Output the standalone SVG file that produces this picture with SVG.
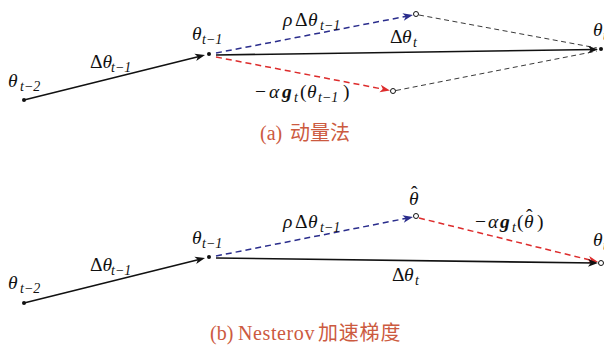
<svg xmlns="http://www.w3.org/2000/svg" width="604" height="347" viewBox="0 0 604 347">
<style>
.m{font-family:"Liberation Serif","DejaVu Serif",serif;font-size:19.5px;fill:#111}
.i{font-style:italic}
.s{font-size:14px}
.b{font-weight:bold;font-style:italic}
.cap{font-family:"Liberation Serif","Noto Sans CJK SC",serif;font-size:20px;fill:#cc5a40}
.cjk{font-family:"Noto Sans CJK SC",sans-serif}
.k{stroke:#111;stroke-width:1.6;fill:none}
.bl{stroke:#2a2d8c;stroke-width:1.5;stroke-dasharray:6 4;fill:none}
.rd{stroke:#dd2c2c;stroke-width:1.5;stroke-dasharray:6 4;fill:none}
.gr{stroke:#222;stroke-width:0.9;stroke-dasharray:5 3.5;fill:none}
.dot{fill:#111}
.oc{fill:#fff;stroke:#111;stroke-width:1}
</style>
<defs>
<marker id="ak" viewBox="-11 -5 12 10" refX="-3" refY="0" markerWidth="12" markerHeight="10" orient="auto" markerUnits="userSpaceOnUse"><path d="M0,0 L-10,-3.8 L-7.3,0 L-10,3.8 Z" fill="#111"/></marker>
<marker id="ab" viewBox="-11 -5 12 10" refX="-3" refY="0" markerWidth="12" markerHeight="10" orient="auto" markerUnits="userSpaceOnUse"><path d="M0,0 L-10,-3.8 L-7.3,0 L-10,3.8 Z" fill="#2a2d8c"/></marker>
<marker id="ar" viewBox="-11 -5 12 10" refX="-3" refY="0" markerWidth="12" markerHeight="10" orient="auto" markerUnits="userSpaceOnUse"><path d="M0,0 L-10,-3.8 L-7.3,0 L-10,3.8 Z" fill="#dd2c2c"/></marker>
</defs>

<g id="connectors">
<line class="k" x1="24" y1="100" x2="202.1" y2="55.7" marker-end="url(#ak)"/>
<line class="bl" x1="216" y1="53" x2="410" y2="15.6" marker-end="url(#ab)"/>
<line class="rd" x1="216" y1="57" x2="387" y2="89.9" marker-end="url(#ar)"/>
<line class="k" x1="216" y1="55" x2="595" y2="49.5" marker-end="url(#ak)"/>
<line class="gr" x1="419" y1="15" x2="597" y2="48"/>
<line class="gr" x1="396" y1="90.5" x2="597" y2="51"/>
<line class="k" x1="24" y1="303" x2="202.1" y2="258.7" marker-end="url(#ak)"/>
<line class="bl" x1="216" y1="256" x2="410" y2="217.6" marker-end="url(#ab)"/>
<line class="rd" x1="419" y1="218" x2="595.1" y2="261.3" marker-end="url(#ar)"/>
<line class="k" x1="216" y1="258" x2="595" y2="263" marker-end="url(#ak)"/>
</g>

<g id="a-theta-t2"><circle class="dot" cx="24" cy="100" r="2"/><text class="m i" x="8" y="87">θ<tspan class="s" x="20" y="91">t−2</tspan></text></g>
<g id="a-theta-t1"><circle class="dot" cx="209" cy="54" r="2"/><text class="m i" x="192" y="40">θ<tspan class="s" x="202" y="44">t−1</tspan></text></g>
<g id="a-mom"><circle class="oc" cx="416" cy="14" r="2.5"/></g>
<g id="a-grad"><circle class="oc" cx="393" cy="91" r="2.5"/></g>
<g id="a-theta-t"><circle class="dot" cx="601" cy="49" r="2"/><text class="m i" x="593" y="36">θ<tspan class="s" x="603" y="40">t</tspan></text></g>

<g id="a-labels">
<text class="m" x="90" y="68">Δ<tspan class="i">θ</tspan><tspan class="s i" x="111" y="72">t−1</tspan></text>
<text class="m" x="283" y="26"><tspan class="i">ρ</tspan><tspan x="295">Δ</tspan><tspan class="i" x="308">θ</tspan><tspan class="s i" x="320" y="30">t−1</tspan></text>
<text class="m" x="390" y="43">Δ<tspan class="i" x="402">θ</tspan><tspan class="s i" x="413" y="47">t</tspan></text>
<text class="m" x="255" y="98">−<tspan class="i" x="269">α</tspan><tspan class="b" x="282">g</tspan><tspan class="s i" x="294" y="102">t</tspan><tspan x="300" y="98">(</tspan><tspan class="i" x="307">θ</tspan><tspan class="s i" x="318" y="102">t−1</tspan><tspan x="343" y="98">)</tspan></text>
</g>
<g id="caption-a"><text class="cap" x="260" y="140">(a)<tspan class="cjk" x="290">动量法</tspan></text></g>

<g id="b-theta-t2"><circle class="dot" cx="24" cy="303" r="2"/><text class="m i" x="8" y="289">θ<tspan class="s" x="20" y="293">t−2</tspan></text></g>
<g id="b-theta-t1"><circle class="dot" cx="209" cy="257" r="2"/><text class="m i" x="192" y="244">θ<tspan class="s" x="202" y="248">t−1</tspan></text></g>
<g id="b-theta-hat"><circle class="oc" cx="416" cy="216" r="2.5"/><text class="m i" x="409" y="205">θ</text><text class="m" x="411" y="199">ˆ</text></g>
<g id="b-theta-t"><circle class="oc" cx="601" cy="263" r="2.5"/><text class="m i" x="593" y="246">θ<tspan class="s" x="603" y="250">t</tspan></text></g>

<g id="b-labels">
<text class="m" x="90" y="271">Δ<tspan class="i">θ</tspan><tspan class="s i" x="111" y="275">t−1</tspan></text>
<text class="m" x="283" y="228"><tspan class="i">ρ</tspan><tspan x="295">Δ</tspan><tspan class="i" x="308">θ</tspan><tspan class="s i" x="320" y="232">t−1</tspan></text>
<text class="m" x="392" y="281">Δ<tspan class="i" x="404">θ</tspan><tspan class="s i" x="415" y="285">t</tspan></text>
<text class="m" x="475" y="228">−<tspan class="i" x="488">α</tspan><tspan class="b" x="500">g</tspan><tspan class="s i" x="512" y="232">t</tspan><tspan x="517" y="228">(</tspan><tspan class="i" x="524">θ</tspan><tspan x="537">)</tspan></text>
<text class="m" x="526" y="222">ˆ</text>
</g>
<g id="caption-b"><text class="cap" x="210" y="340">(b)<tspan x="238" letter-spacing="0.6">Nesterov</tspan><tspan class="cjk" x="318" letter-spacing="0.8">加速梯度</tspan></text></g>
</svg>
